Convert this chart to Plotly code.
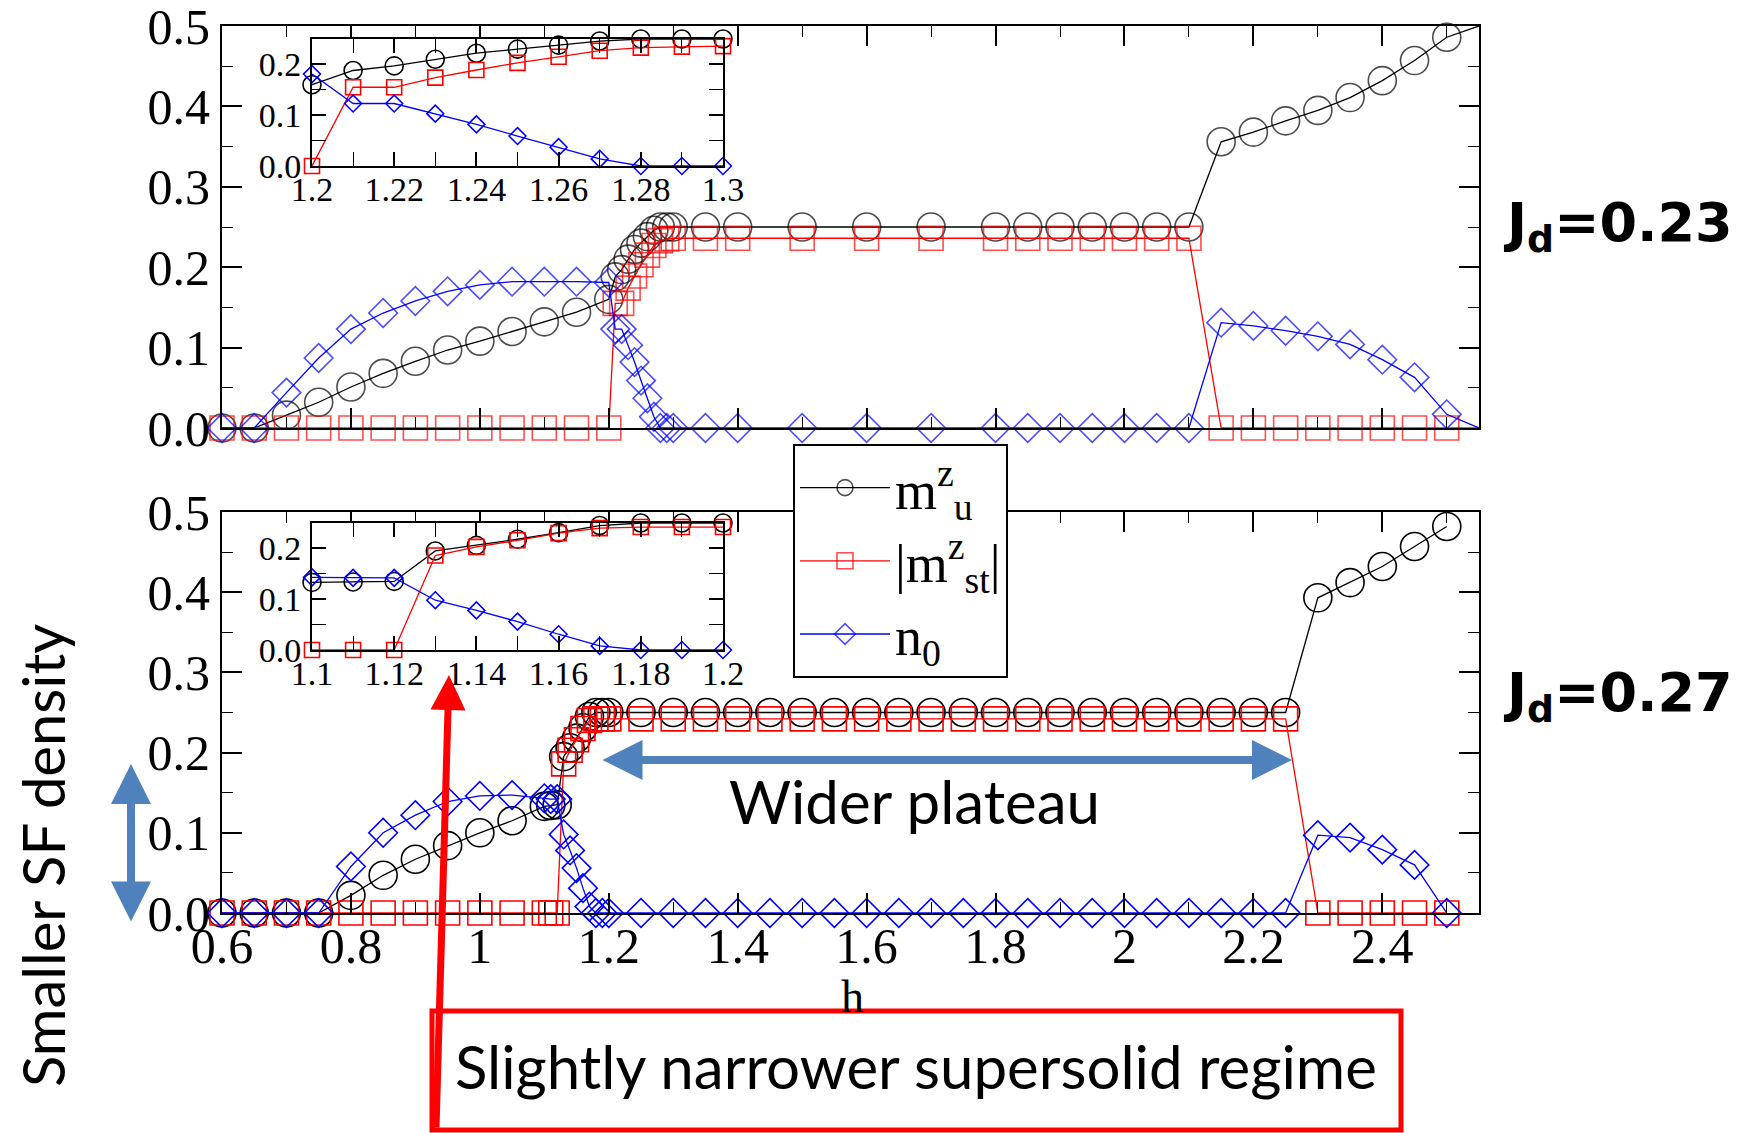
import plotly.graph_objects as go

W, H = 1744, 1133

# ---------------- data: J_d = 0.23 (top panel) ----------------
top_h = [0.6, 0.65, 0.7, 0.75, 0.8, 0.85, 0.9, 0.95, 1.0, 1.05, 1.1, 1.15, 1.2,
         1.21, 1.22, 1.23, 1.24, 1.25, 1.26, 1.27, 1.28, 1.29, 1.3,
         1.35, 1.4, 1.5, 1.6, 1.7, 1.8, 1.85, 1.9, 1.95, 2.0, 2.05, 2.1,
         2.15, 2.2, 2.25, 2.3, 2.35, 2.4, 2.45, 2.5, 2.55]
top_mu = [0, 0, 0.016, 0.032, 0.051, 0.068, 0.083, 0.097, 0.108, 0.12, 0.132, 0.144, 0.16,
          0.188, 0.197, 0.21, 0.222, 0.23, 0.238, 0.246, 0.25, 0.25, 0.25,
          0.25, 0.25, 0.25, 0.25, 0.25, 0.25, 0.25, 0.25, 0.25, 0.25, 0.25, 0.25,
          0.356, 0.368, 0.382, 0.395, 0.411, 0.432, 0.457, 0.486, 0.5]
top_mst = [0, 0, 0, 0, 0, 0, 0, 0, 0, 0, 0, 0, 0,
           0.155, 0.155, 0.174, 0.189, 0.203, 0.215, 0.227, 0.233, 0.235, 0.236,
           0.236, 0.236, 0.236, 0.236, 0.236, 0.236, 0.236, 0.236, 0.236, 0.236, 0.236, 0.236,
           0, 0, 0, 0, 0, 0, 0, 0, 0]
top_n0 = [0, 0, 0.044, 0.087, 0.123, 0.143, 0.158, 0.17, 0.178, 0.182, 0.182, 0.182, 0.181,
          0.123, 0.123, 0.103, 0.082, 0.059, 0.037, 0.014, 0, 0, 0,
          0, 0, 0, 0, 0, 0, 0, 0, 0, 0, 0, 0,
          0.131, 0.127, 0.121, 0.114, 0.104, 0.085, 0.063, 0.017, 0]

# ---------------- data: J_d = 0.27 (bottom panel) ----------------
bot_h = [0.6, 0.65, 0.7, 0.75, 0.8, 0.85, 0.9, 0.95, 1.0, 1.05, 1.1,
         1.11, 1.12, 1.13, 1.14, 1.15, 1.16, 1.17, 1.18, 1.19, 1.2,
         1.25, 1.3, 1.35, 1.4, 1.45, 1.5, 1.55, 1.6, 1.65, 1.7, 1.75, 1.8,
         1.85, 1.9, 1.95, 2.0, 2.05, 2.1, 2.15, 2.2, 2.25,
         2.3, 2.35, 2.4, 2.45, 2.5]
bot_mu = [0, 0, 0, 0, 0.022, 0.047, 0.067, 0.084, 0.1, 0.115, 0.133,
          0.134, 0.135, 0.195, 0.206, 0.218, 0.231, 0.245, 0.25, 0.25, 0.25,
          0.25, 0.25, 0.25, 0.25, 0.25, 0.25, 0.25, 0.25, 0.25, 0.25, 0.25, 0.25,
          0.25, 0.25, 0.25, 0.25, 0.25, 0.25, 0.25, 0.25, 0.25,
          0.393, 0.412, 0.432, 0.457, 0.482]
bot_mst = [0, 0, 0, 0, 0, 0, 0, 0, 0, 0, 0,
           0, 0, 0.186, 0.203, 0.216, 0.23, 0.24, 0.242, 0.242, 0.242,
           0.242, 0.242, 0.242, 0.242, 0.242, 0.242, 0.242, 0.242, 0.242, 0.242, 0.242, 0.242,
           0.242, 0.242, 0.242, 0.242, 0.242, 0.242, 0.242, 0.242, 0.242,
           0, 0, 0, 0, 0]
bot_n0 = [0, 0, 0, 0, 0.058, 0.1, 0.122, 0.139, 0.146, 0.147, 0.143,
          0.142, 0.142, 0.098, 0.078, 0.056, 0.031, 0.008, 0, 0, 0,
          0, 0, 0, 0, 0, 0, 0, 0, 0, 0, 0, 0,
          0, 0, 0, 0, 0, 0, 0, 0, 0,
          0.097, 0.094, 0.079, 0.06, 0]

# inset windows
top_inset_range = [1.2, 1.3]
bot_inset_range = [1.1, 1.2]

main_xticks = [0.6, 0.8, 1.0, 1.2, 1.4, 1.6, 1.8, 2.0, 2.2, 2.4]
main_yticks = [0.0, 0.1, 0.2, 0.3, 0.4, 0.5]

series_names = ["m<sup>z</sup><sub>u</sub>", "|m<sup>z</sup><sub>st</sub>|", "n<sub>0</sub>"]
colors = ["black", "#ff0000", "#0000ff"]
symbols = ["circle-open", "square-open", "diamond-open"]
main_sizes = [28, 24, 22]
inset_sizes = [18, 15, 13]

SERIF = "Liberation Serif, Times New Roman, serif"
SANS = "Lato, Open Sans, sans-serif"


def px_x(p):
    return p / W


def px_y(p):
    return 1 - p / H


fig = go.Figure()

# domains (pixel based)
main_x_dom = [px_x(222), px_x(1479)]
top_y_dom = [px_y(428), px_y(26)]
bot_y_dom = [px_y(913), px_y(512)]
inset_x_dom = [px_x(312), px_x(723)]
top_in_y_dom = [px_y(166), px_y(39)]
bot_in_y_dom = [px_y(650), px_y(523)]


def add_series(h, ys, xa, ya, sizes, legend, hide_last=False):
    for i, (y, nm) in enumerate(zip(ys, series_names)):
        if hide_last:
            sz = [sizes[i]] * (len(h) - 1) + [0]
        else:
            sz = sizes[i]
        fig.add_trace(go.Scatter(
            x=h, y=y, mode="lines+markers", name=nm,
            xaxis=xa, yaxis=ya, showlegend=legend, cliponaxis=False,
            line=dict(color=colors[i], width=1.3),
            marker=dict(symbol=symbols[i], size=sz, color=colors[i],
                        line=dict(width=1.6, color=colors[i])),
        ))


def window(h, ys, rng):
    idx = [k for k, v in enumerate(h) if rng[0] - 1e-9 <= v <= rng[1] + 1e-9]
    return [h[k] for k in idx], [[y[k] for k in idx] for y in ys]


add_series(top_h, [top_mu, top_mst, top_n0], "x", "y", main_sizes, True, hide_last=True)
add_series(bot_h, [bot_mu, bot_mst, bot_n0], "x2", "y2", main_sizes, False)

ti_h, ti_y = window(top_h, [top_mu, top_mst, top_n0], top_inset_range)
add_series(ti_h, ti_y, "x3", "y3", inset_sizes, False)
bi_h, bi_y = window(bot_h, [bot_mu, bot_mst, bot_n0], bot_inset_range)
add_series(bi_h, bi_y, "x4", "y4", inset_sizes, False)

axis_common = dict(showline=True, linecolor="black", linewidth=2, mirror="allticks",
                   ticks="inside", tickcolor="black", tickwidth=1.6,
                   showgrid=False, zeroline=False, automargin=False,
                   ticklabeloverflow="allow")

main_tickfont = dict(family=SERIF, size=50, color="black")
inset_tickfont = dict(family=SERIF, size=34, color="black")

minor_main_x = dict(dtick=0.1, tick0=0, ticks="inside", ticklen=11, tickcolor="black", tickwidth=1.4)
minor_main_y = dict(dtick=0.05, tick0=0, ticks="inside", ticklen=11, tickcolor="black", tickwidth=1.4)
minor_in_x = dict(dtick=0.01, tick0=0, ticks="inside", ticklen=14, tickcolor="black", tickwidth=1.4)
minor_in_y = dict(dtick=0.05, tick0=0, ticks="inside", ticklen=14, tickcolor="black", tickwidth=1.4)

fig.update_layout(
    xaxis=dict(domain=main_x_dom, anchor="y", range=[0.6, 2.55], tickvals=main_xticks,
               showticklabels=False, ticklen=20, minor=minor_main_x, **axis_common),
    yaxis=dict(domain=top_y_dom, anchor="x", range=[0, 0.5], tickvals=main_yticks,
               tickformat=".1f", tickfont=main_tickfont, ticklen=20, ticklabelstandoff=0,
               minor=minor_main_y, **axis_common),
    xaxis2=dict(domain=main_x_dom, anchor="y2", range=[0.6, 2.55], tickvals=main_xticks,
                tickfont=main_tickfont, ticklen=20, ticklabelstandoff=-12,
                minor=minor_main_x, **axis_common),
    yaxis2=dict(domain=bot_y_dom, anchor="x2", range=[0, 0.5], tickvals=main_yticks,
                tickformat=".1f", tickfont=main_tickfont, ticklen=20, ticklabelstandoff=0,
                minor=minor_main_y, **axis_common),
    xaxis3=dict(domain=inset_x_dom, anchor="y3", range=top_inset_range, dtick=0.02, tick0=0,
                tickfont=inset_tickfont, ticklen=14, ticklabelstandoff=-8,
                minor=minor_in_x, **axis_common),
    yaxis3=dict(domain=top_in_y_dom, anchor="x3", range=[0, 0.25], tickvals=[0, 0.1, 0.2],
                tickformat=".1f", tickfont=inset_tickfont, ticklen=14, ticklabelstandoff=2,
                minor=minor_in_y, **axis_common),
    xaxis4=dict(domain=inset_x_dom, anchor="y4", range=bot_inset_range, dtick=0.02, tick0=0,
                tickfont=inset_tickfont, ticklen=14, ticklabelstandoff=-8,
                minor=minor_in_x, **axis_common),
    yaxis4=dict(domain=bot_in_y_dom, anchor="x4", range=[0, 0.25], tickvals=[0, 0.1, 0.2],
                tickformat=".1f", tickfont=inset_tickfont, ticklen=14, ticklabelstandoff=2,
                minor=minor_in_y, **axis_common),
)

fig.update_layout(
    width=W, height=H, autosize=False,
    margin=dict(l=0, r=0, t=0, b=0, pad=0),
    paper_bgcolor="white", plot_bgcolor="white",
    showlegend=True,
    legend=dict(x=px_x(793), y=px_y(444), xanchor="left", yanchor="top",
                bgcolor="white", bordercolor="black", borderwidth=2,
                font=dict(family=SERIF, size=54, color="black"),
                itemwidth=90, tracegroupgap=0),
)

# red box
fig.add_shape(type="rect", xref="paper", yref="paper",
              x0=px_x(432), x1=px_x(1401), y0=px_y(1130), y1=px_y(1011),
              line=dict(color="#ff0000", width=5), fillcolor="white", layer="above")

P = dict(xref="paper", yref="paper", xanchor="center", yanchor="middle")
annotations = [
    dict(x=px_x(852), y=px_y(996), text="h", font=dict(family=SERIF, size=46, color="black"),
         showarrow=False, **P),
    dict(x=px_x(1618), y=px_y(226), text="<b>J<sub>d</sub>=0.23</b>",
         font=dict(family="DejaVu Sans, Verdana, sans-serif", size=54, color="black"),
         showarrow=False, **P),
    dict(x=px_x(1618), y=px_y(696), text="<b>J<sub>d</sub>=0.27</b>",
         font=dict(family="DejaVu Sans, Verdana, sans-serif", size=54, color="black"),
         showarrow=False, **P),
    dict(x=px_x(42), y=px_y(856), text="Smaller SF density", textangle=-90,
         font=dict(family=SANS, size=58, color="black"), showarrow=False, **P),
    dict(x=px_x(914), y=px_y(801), text="Wider plateau",
         font=dict(family=SANS, size=60, color="black"), showarrow=False, **P),
    dict(x=px_x(916), y=px_y(1066), text="Slightly narrower supersolid regime",
         font=dict(family=SANS, size=60, color="black"), showarrow=False, **P),
    # horizontal double arrow
    dict(x=px_x(1292), y=px_y(760), ax=-(1292 - 601), ay=0, axref="pixel", ayref="pixel",
         text="", showarrow=True,
         arrowside="end+start", arrowhead=2, startarrowhead=2, arrowsize=1, startarrowsize=1,
         arrowwidth=8, arrowcolor="#4f81bd", **P),
    # vertical double arrow
    dict(x=px_x(131), y=px_y(764), ax=0, ay=(923 - 764), axref="pixel", ayref="pixel",
         text="", showarrow=True,
         arrowside="end+start", arrowhead=2, startarrowhead=2, arrowsize=1, startarrowsize=1,
         arrowwidth=8, arrowcolor="#4f81bd", **P),
    # red arrow
    dict(x=px_x(449), y=px_y(675), ax=(436 - 449), ay=(1129 - 675), axref="pixel", ayref="pixel",
         text="", showarrow=True,
         arrowhead=2, arrowsize=1, arrowwidth=7, arrowcolor="#ff0000", **P),
]
fig.update_layout(annotations=annotations)

fig.write_html("out.html")
